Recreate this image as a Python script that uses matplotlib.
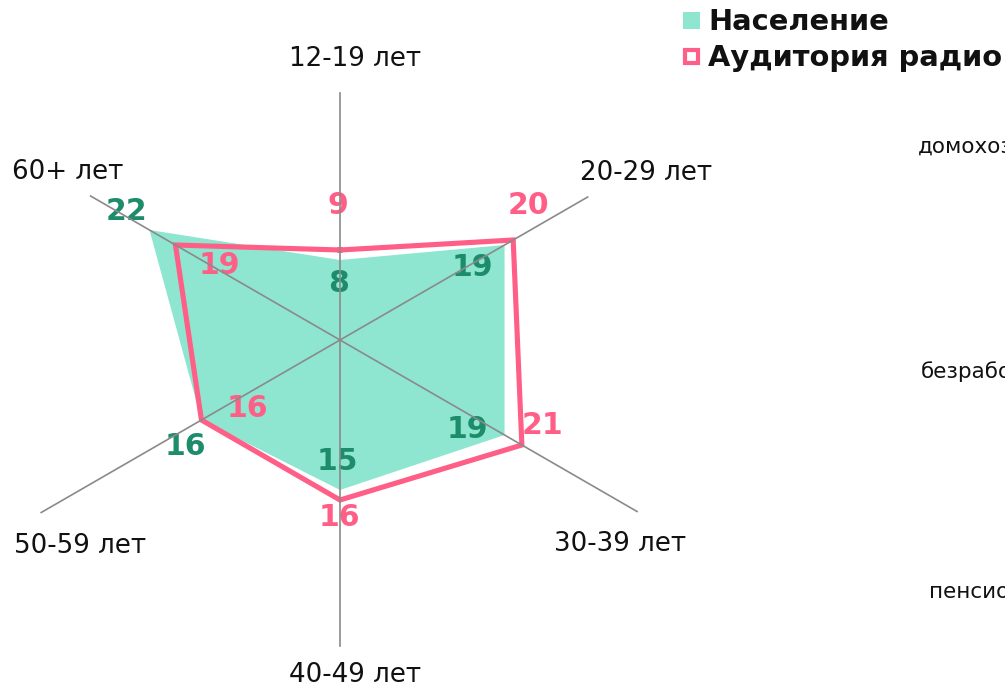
import numpy as np
import matplotlib
matplotlib.use("Agg")
import matplotlib.pyplot as plt
from matplotlib.patches import Rectangle

# ---- data ----
categories = ["12-19 лет", "20-29 лет", "30-39 лет", "40-49 лет", "50-59 лет", "60+ лет"]
population = [8, 19, 19, 15, 16, 22]
audience = [9, 20, 21, 16, 16, 19]
series_names = ["Население", "Аудитория радио"]
side_labels = ["домохозяйки", "безработные", "пенсионеры"]

# ---- style ----
axis_len = [24.7, 28.6, 34.3, 30.6, 34.5, 28.8]
cat_offsets = [(15, 34), (58, 24), (-17, -33), (15, -29), (39, -33), (-23, 24)]
pop_offsets = [(-1, -23), (-32, -23), (-37, 5), (-3, 29), (-16, -26), (-23, 19)]
aud_offsets = [(-2, 45), (15, 35), (21, 20), (-1, -17), (46, 12), (44, -21)]

GREEN_FILL = "#8ee6d0"
GREEN_TEXT = "#1d8c6a"
PINK = "#ff5f87"
GRAY = "#8a8a8a"

plt.rcParams["font.family"] = ["DejaVu Sans"]

W, H, DPI = 1005, 687, 100
fig = plt.figure(figsize=(W / DPI, H / DPI), dpi=DPI, facecolor="white")

rmax = 36
px_per_unit = 10
cx, cy = 340, 340
R = rmax * px_per_unit
ax = fig.add_axes([(cx - R) / W, (H - cy - R) / H, 2 * R / W, 2 * R / H],
                  projection="polar")
ax.set_theta_zero_location("N")
ax.set_theta_direction(-1)
ax.set_ylim(0, rmax)
ax.axis("off")

n = len(categories)
theta = np.deg2rad(np.arange(n) * 360.0 / n)
th_closed = np.append(theta, theta[0])

pop_closed = np.append(population, population[0])
aud_closed = np.append(audience, audience[0])

ax.fill(th_closed, pop_closed, color=GREEN_FILL, lw=0, zorder=1)
ax.plot(th_closed, aud_closed, color=PINK, lw=3.7, solid_joinstyle="miter", zorder=2)

for t, L in zip(theta, axis_len):
    ax.plot([t, t], [0, L], color=GRAY, lw=1.2, zorder=4, clip_on=False)

for t, L, lab, off in zip(theta, axis_len, categories, cat_offsets):
    ax.annotate(lab, xy=(t, L), xytext=off, textcoords="offset pixels",
                ha="center", va="center", fontsize=18.8, color="#111111",
                annotation_clip=False)

for t, v, off in zip(theta, population, pop_offsets):
    ax.annotate(str(v), xy=(t, v), xytext=off, textcoords="offset pixels",
                ha="center", va="center", fontsize=21.5, fontweight="bold",
                color=GREEN_TEXT, zorder=3, annotation_clip=False)

for t, v, off in zip(theta, audience, aud_offsets):
    ax.annotate(str(v), xy=(t, v), xytext=off, textcoords="offset pixels",
                ha="center", va="center", fontsize=21.5, fontweight="bold",
                color=PINK, zorder=3, annotation_clip=False)

# ---- legend ----
fig.patches.append(Rectangle((683 / W, 1 - 29 / H), 17 / W, 17 / H,
                             transform=fig.transFigure, facecolor=GREEN_FILL,
                             edgecolor="none"))
fig.patches.append(Rectangle((685 / W, 1 - 63 / H), 13 / W, 13 / H,
                             transform=fig.transFigure, facecolor="white",
                             edgecolor=PINK, lw=3))
fig.text(708 / W, 1 - 22 / H, series_names[0], ha="left", va="center",
         fontsize=20.8, fontweight="bold", color="#111111")
fig.text(708 / W, 1 - 58 / H, series_names[1], ha="left", va="center",
         fontsize=20.8, fontweight="bold", color="#111111")

# ---- cut-off labels of neighbouring chart ----
for lab, (x, y) in zip(side_labels, [(918, 147), (921, 372), (929, 592)]):
    fig.text(x / W, 1 - y / H, lab, ha="left", va="center", fontsize=15.5,
             color="#111111")

fig.savefig("out.png", dpi=DPI, facecolor="white")
